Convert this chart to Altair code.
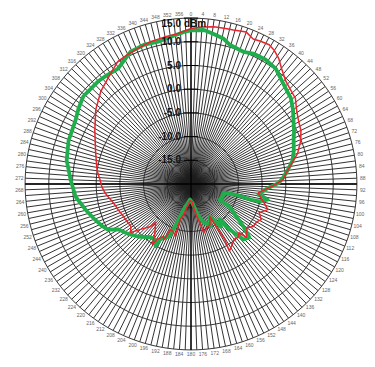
import altair as alt
import pandas as pd

# ---- data (angle in degrees clockwise from top, level in dBm) ----
red_ang = [0, 4, 8.2, 12, 15.4, 20, 23.2, 26, 29.3, 32, 35, 38, 42.7, 46, 50.6, 55, 59.6, 64, 68.4, 74, 79, 83,
           87.5, 92, 97.5, 101, 104.4, 108.4, 112.8, 116.9, 120, 124.3, 128, 131, 134, 135.5, 138, 141.8, 146,
           150.2, 148.7, 149.4, 150, 155, 160, 165.1, 167, 169.7, 173, 176.8, 183, 189.9, 193, 197, 196.8, 200,
           204.5, 205.7, 208, 211.3, 212.6, 216, 222.7, 223.6, 228, 231.2, 235, 238.6, 244, 250.6, 256, 261.2,
           264, 268, 272.5, 278, 284, 289, 294.4, 299, 303.4, 308, 315.9, 323.6, 329.2, 334, 338.5, 344.1,
           349.7, 354.7, 360]
red_db = [12.8, 13.2, 13.5, 13.6, 13.7, 14.1, 13.3, 13.5, 13.7, 13.2, 12.3, 11.0, 9.5, 9.0, 8.5, 7.2, 6.3, 5.8,
          4.9, 3.4, 1.5, 0.3, -0.6, -3.1, -5.7, -5.0, -4.1, -2.9, -4.4, -3.4, -4.0, -4.1, -5.0, -4.4, -3.8, -5.6,
          -5.0, -5.2, -4.5, -3.7, -6.4, -9.4, -12.1, -10.5, -10.2, -9.4, -11.5, -13.0, -14.8, -16.25, -16.5,
          -15.1, -13.5, -12.2, -8.5, -9.2, -9.5, -7.0, -7.5, -6.4, -4.9, -7.0, -9.0, -7.6, -5.7, -3.7, -4.5,
          -4.4, -4.2, -3.7, -3.2, -2.3, -1.8, -1.2, -0.8, 0.0, 0.6, 1.3, 2.2, 3.2, 4.2, 5.5, 7.3, 8.75, 10.1,
          10.4, 10.7, 11.2, 11.5, 11.8, 12.8]

green_ang = [0, 4.8, 8.6, 12.7, 15.5, 21.6, 25.5, 31.1, 36.3, 40, 44.7, 49.3, 54, 58.4, 63, 67.1, 72, 76.9, 81.9,
             86, 89.4, 92.9, 96, 99.2, 100, 101.6, 104.2, 104.7, 103.4, 105.3, 112, 118.9, 120.5, 125.7, 129,
             132.5, 136.6, 139.7, 141.1, 145, 150, 155, 158, 161.6, 165, 168.3, 176, 183.6, 190, 194.6, 199.7,
             202.5, 209, 209.7, 213, 217.2, 225.5, 232, 238.1, 241.3, 245, 249.6, 256.3, 263.7, 271.9, 280.8,
             289.5, 298.7, 304, 309.2, 317.9, 322, 327.7, 335.5, 341.6, 346.7, 352, 357.4, 360]
green_db = [12.4, 12.6, 12.0, 11.4, 10.5, 10.0, 10.5, 10.6, 10.2, 9.3, 8.4, 7.8, 6.6, 5.4, 4.4, 3.5, 2.8, 2.0, 0.6,
            -0.5, -1.5, -3.7, -4.8, -5.6, -4.5, -3.5, -5.1, -6.9, -10.2, -12.9, -12.8, -13.1, -10.6, -8.2, -5.8,
            -3.3, -3.9, -7.4, -10.4, -9.0, -12.1, -10.2, -11.0, -11.4, -12.5, -13.8, -16.0, -16.7, -15.8, -15.0,
            -11.4, -8.0, -6.7, -4.9, -6.0, -5.9, -4.2, -3.0, -1.9, 0.0, 0.8, 1.6, 2.9, 4.5, 5.4, 6.7, 7.4, 7.8,
            8.6, 9.3, 9.2, 9.0, 8.8, 10.7, 11.0, 10.8, 11.3, 12.1, 12.4]

ring_db = [-15, -10, -5, 0, 5, 10, 15]
ring_text = ["-15.0", "-10.0", "-5.0", "0.0", "5.0", "10.0", "15.0"]
angle_ticks = list(range(0, 360, 4))
spoke_ticks = list(range(0, 360, 2))

DB_MIN = -20.0
DB_MAX = 15.0
RMAX = DB_MAX - DB_MIN
PX = 4.74  # pixels per radial unit

W, H = 359, 351
CX, CY = 183, 176  # centre inside the plot area (pixels)
xs = alt.Scale(domain=[-CX / PX, (W - CX) / PX], nice=False, zero=False)
ys = alt.Scale(domain=[(CY - H) / PX, CY / PX], nice=False, zero=False)

def X(f):
    return alt.X(f, type="quantitative", scale=xs, axis=None)

def Y(f):
    return alt.Y(f, type="quantitative", scale=ys, axis=None)

# spokes
spokes = pd.DataFrame({"a": spoke_ticks})
spoke_layer = alt.Chart(spokes).transform_calculate(
    x0="0", y0="0",
    x1=f"{RMAX}*sin(datum.a*PI/180)", y1=f"{RMAX}*cos(datum.a*PI/180)"
).mark_rule(color="#1c1c1c", strokeWidth=0.9).encode(
    x=X("x0"), y=Y("y0"), x2="x1:Q", y2="y1:Q")

# rings
ring_rows = [(d, a) for d in ring_db for a in range(0, 361, 2)]
rings = pd.DataFrame(ring_rows, columns=["db", "a"])
ring_layer = alt.Chart(rings).transform_calculate(
    x=f"(datum.db-({DB_MIN}))*sin(datum.a*PI/180)",
    y=f"(datum.db-({DB_MIN}))*cos(datum.a*PI/180)"
).mark_line(color="#222222", strokeWidth=0.9).encode(
    x=X("x"), y=Y("y"), detail="db:N", order="a:Q")

# main axes
axes = pd.DataFrame({"a": [0, 90]})
axis_layer = alt.Chart(axes).transform_calculate(
    x0=f"-{RMAX}*sin(datum.a*PI/180)", y0=f"-{RMAX}*cos(datum.a*PI/180)",
    x1=f"{RMAX}*sin(datum.a*PI/180)", y1=f"{RMAX}*cos(datum.a*PI/180)"
).mark_rule(color="#000000", strokeWidth=1.3).encode(
    x=X("x0"), y=Y("y0"), x2="x1:Q", y2="y1:Q")

# ticks on vertical axis
ticks = pd.DataFrame({"db": ring_db})
tick_layer = alt.Chart(ticks).transform_calculate(
    x0="-1.5", x1="1.5", y=f"datum.db-({DB_MIN})"
).mark_rule(color="#000000", strokeWidth=1).encode(
    x=X("x0"), x2="x1:Q", y=Y("y"))

# dB labels
lab = pd.DataFrame({"db": ring_db, "t": ring_text})
txt = dict(baseline="middle", font="Liberation Sans", fontSize=10, fontWeight="bold", color="#111111")
lab_layer = alt.Chart(lab).transform_filter("datum.db < 15").transform_calculate(
    x=f"-10/{PX}", y=f"datum.db-({DB_MIN})"
).mark_text(align="right", **txt).encode(x=X("x"), y=Y("y"), text="t:N")
top_layer = alt.Chart(lab).transform_filter("datum.db == 15").transform_calculate(
    x=f"-10/{PX}", y=f"datum.db-({DB_MIN})"
).mark_text(align="right", dy=6, **txt).encode(x=X("x"), y=Y("y"), text="t:N")
dbm_layer = alt.Chart(pd.DataFrame({"db": [15], "t": ["dBm"]})).transform_calculate(
    x=f"-7/{PX}", y=f"datum.db-({DB_MIN})"
).mark_text(align="left", dy=6, **txt).encode(x=X("x"), y=Y("y"), text="t:N")

# angle labels
alab = pd.DataFrame({"a": angle_ticks})
alab_layer = alt.Chart(alab).transform_calculate(
    r=f"{RMAX}+(4.5+1.4*abs(sin(datum.a*PI/180)))/{PX}",
    x="datum.r*sin(datum.a*PI/180)", y="datum.r*cos(datum.a*PI/180)",
    t="''+datum.a"
).mark_text(align="center", baseline="middle", font="Liberation Sans", fontSize=5,
            color="#666666").encode(x=X("x"), y=Y("y"), text="t:N")

def curve(ang, db, color, width):
    df = pd.DataFrame({"a": ang, "db": db, "i": list(range(len(ang)))})
    return alt.Chart(df).transform_calculate(
        x=f"(datum.db-({DB_MIN}))*sin(datum.a*PI/180)",
        y=f"(datum.db-({DB_MIN}))*cos(datum.a*PI/180)"
    ).mark_line(color=color, strokeWidth=width, strokeJoin="round").encode(
        x=X("x"), y=Y("y"), order="i:Q")

green_layer = curve(green_ang, green_db, "#1fae4b", 3.8)
red_layer = curve(red_ang, red_db, "#e8242c", 1.5)

chart = alt.layer(
    spoke_layer, ring_layer, axis_layer, tick_layer, alab_layer,
    green_layer, red_layer, lab_layer, top_layer, dbm_layer
).properties(width=W, height=H, padding=0, autosize="none", background="white"
).configure_view(stroke=None)

chart.save("out.html", embed_options={"renderer": "svg", "actions": False})
